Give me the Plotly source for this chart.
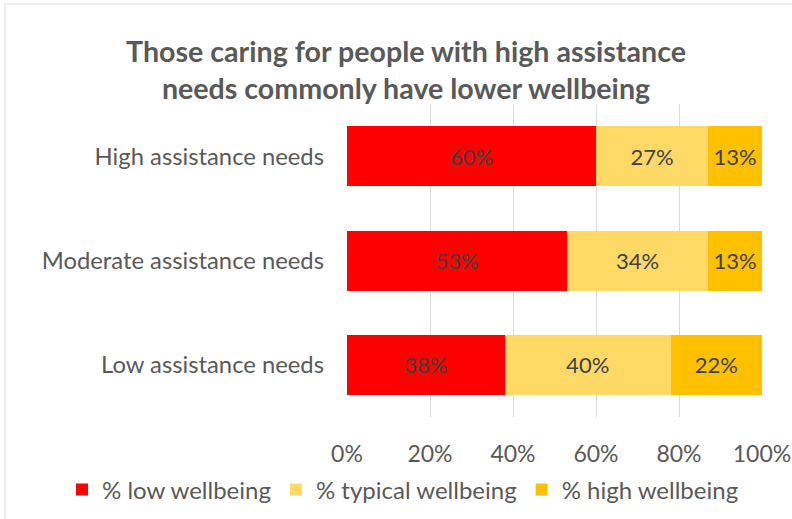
import plotly.graph_objects as go

# Assistance-need groups, top to bottom
categories = ["High assistance needs", "Moderate assistance needs", "Low assistance needs"]

# Share of carers in each wellbeing band (%)
low_wellbeing = [60, 53, 38]
typical_wellbeing = [27, 34, 40]
high_wellbeing = [13, 13, 22]

series_names = ["% low wellbeing", "% typical wellbeing", "% high wellbeing"]
series_colors = ["#FF0000", "#FFD966", "#FFC000"]

x_ticks = [0, 20, 40, 60, 80, 100]
x_tick_labels = ["0%", "20%", "40%", "60%", "80%", "100%"]

FONT = "Lato, Carlito, Calibri, sans-serif"

# plot-area geometry in pixels
L, R, T, B = 347, 762, 104, 417
PW, PH = R - L, B - T

fig = go.Figure()
for name, values, color in zip(series_names,
                               [low_wellbeing, typical_wellbeing, high_wellbeing],
                               series_colors):
    fig.add_trace(go.Bar(
        y=categories,
        x=values,
        name=name,
        orientation="h",
        marker=dict(color=color, line=dict(width=0)),
        text=[f"{v}%" for v in values],
        textposition="inside",
        insidetextanchor="middle",
        textangle=0,
        textfont=dict(family=FONT, size=22, color="#404040"),
        hoverinfo="skip",
    ))

fig.update_layout(
    width=792,
    height=519,
    barmode="stack",
    bargap=0.425,
    paper_bgcolor="white",
    plot_bgcolor="white",
    margin=dict(l=L, r=792 - R, t=T, b=519 - B, autoexpand=False),
    font=dict(family=FONT, color="#595959"),
    title=dict(
        text="<b>Those caring for people with high assistance<br>needs commonly have lower wellbeing</b>",
        x=406 / 792,
        xanchor="center",
        y=1 - 62 / 519,
        yanchor="top",
        font=dict(family=FONT, size=28.6, color="#595959"),
    ),
    xaxis=dict(
        range=[0, 100],
        tickvals=x_ticks,
        ticktext=x_tick_labels,
        showgrid=True,
        gridcolor="#D9D9D9",
        gridwidth=1,
        zeroline=False,
        showline=False,
        ticks="",
        ticklabelstandoff=21,
        tickfont=dict(family=FONT, size=23, color="#595959"),
        fixedrange=True,
    ),
    yaxis=dict(
        type="category",
        categoryorder="array",
        categoryarray=categories,
        autorange="reversed",
        showgrid=False,
        zeroline=False,
        showline=False,
        ticks="",
        ticklabelstandoff=22,
        tickfont=dict(family=FONT, size=23.8, color="#595959"),
        fixedrange=True,
    ),
    legend=dict(
        orientation="h",
        x=(62 - L) / PW,
        xanchor="left",
        y=(B - 490) / PH,
        yanchor="middle",
        font=dict(family=FONT, size=24, color="#595959"),
        traceorder="normal",
        itemwidth=30,
        bgcolor="rgba(0,0,0,0)",
    ),
    showlegend=True,
    shapes=[dict(
        type="rect",
        xref="paper", yref="paper",
        x0=(5 - L) / PW, x1=1.2,
        y0=-0.5, y1=(B - 4) / PH,
        line=dict(color="#D9D9D9", width=1),
        fillcolor="rgba(0,0,0,0)",
        layer="below",
    )],
)

fig.write_html("out.html")
